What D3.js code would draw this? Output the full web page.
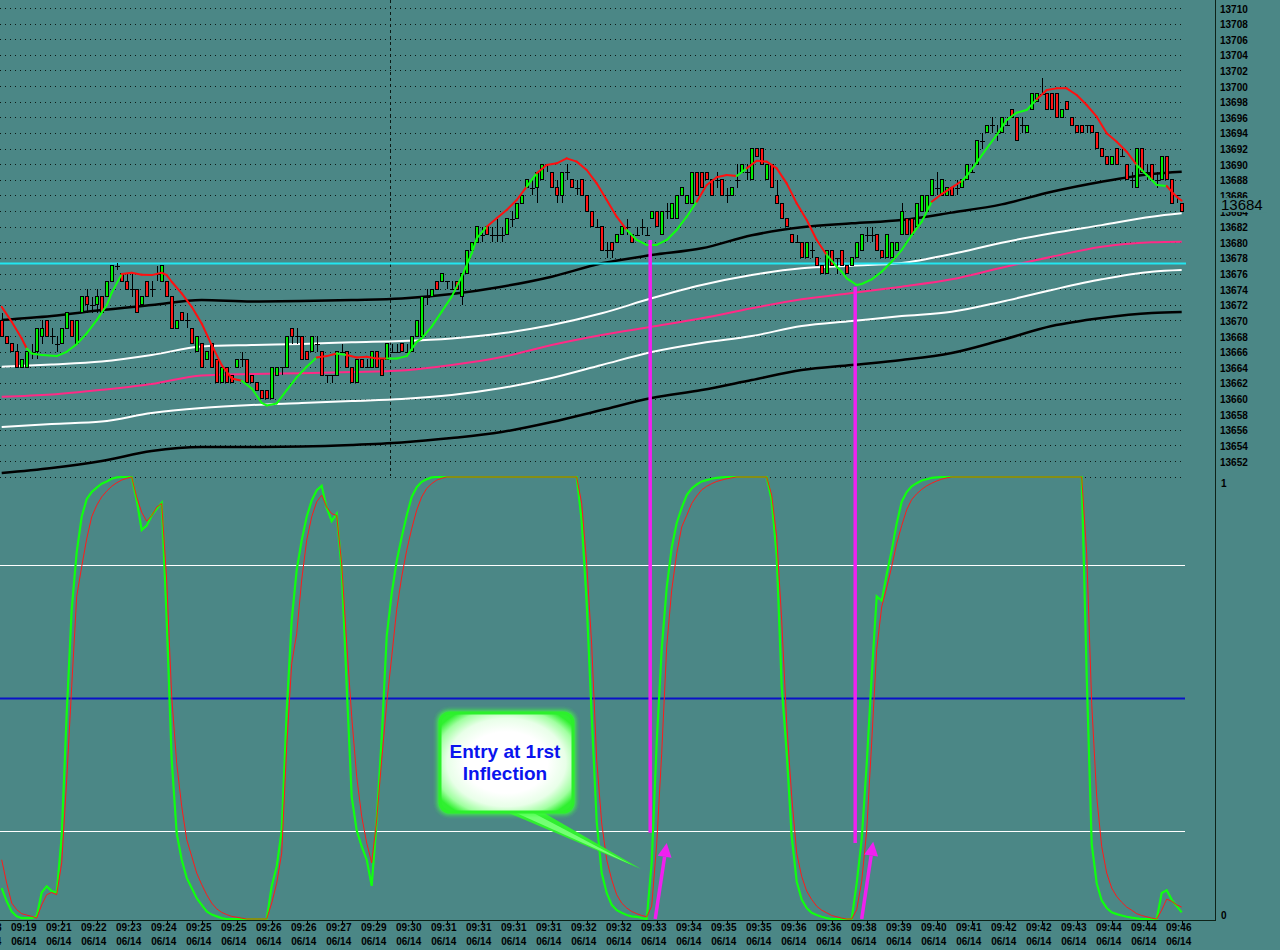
<!DOCTYPE html>
<html><head><meta charset="utf-8">
<script src="https://cdn.jsdelivr.net/npm/d3@7"></script>
<style>
html,body{margin:0;padding:0;background:#4b8786;}
svg{display:block;}
</style></head><body>
<svg id="c" width="1280" height="950"></svg>
<script>
// ---------------- DATA ----------------
const open = [13670,13668,13667,13666,13664,13664,13666,13666,13668,13670,
13668,13667,13667,13669,13670,13667,13671,13673,13672,13672,
13673,13673,13675,13677,13676,13675,13674,13674,13672,13675,
13674,13676,13675,13675,13673,13669,13671,13670,13669,13666,
13667,13665,13667,13665,13662,13664,13663,13664,13665,13665,
13663,13662,13661,13661,13660,13663,13664,13664,13669,13668,
13668,13666,13666,13667,13666,13663,13663,13663,13666,13666,
13664,13662,13665,13664,13664,13666,13665,13665,13666,13666,
13667,13666,13666,13668,13668,13673,13673,13675,13675,13675,
13674,13675,13673,13676,13679,13680,13681,13682,13681,13681,
13681,13681,13683,13683,13685,13687,13687,13687,13688,13690,
13689,13687,13686,13689,13688,13687,13688,13686,13684,13682,
13682,13679,13680,13680,13681,13682,13681,13681,13682,13681,
13683,13684,13681,13684,13683,13683,13686,13685,13685,13689,
13689,13689,13688,13688,13688,13686,13686,13688,13689,13689,
13688,13692,13692,13688,13690,13686,13685,13683,13681,13680,
13680,13678,13679,13678,13677,13676,13679,13678,13679,13677,
13677,13678,13679,13681,13681,13681,13679,13678,13678,13679,
13681,13683,13683,13682,13684,13684,13686,13687,13686,13686,
13687,13687,13687,13688,13689,13690,13693,13694,13695,13694,
13694,13695,13697,13696,13695,13694,13697,13698,13699,13699,
13699,13699,13696,13698,13696,13695,13695,13695,13695,13694,
13692,13691,13690,13692,13691,13690,13688,13687,13692,13689,
13690,13688,13688,13691,13688,13686,13685];
const high = [13671,13668,13667,13667,13665,13666,13667,13669,13670,13670,
13669,13668,13669,13671,13670,13670,13673,13674,13673,13674,
13673,13675,13677,13677.3,13676,13676,13676,13674,13673,13675,
13675,13677,13677,13675,13673,13670,13671,13671,13669,13668,
13667,13666,13667,13665,13664,13664,13663,13665,13666,13665,
13663,13662,13661,13661,13664,13664,13664,13668,13669,13669,
13668,13666,13668,13668,13666,13663,13663,13666,13667,13666,
13664,13665,13665,13665,13666,13666,13665,13667,13667,13667,
13667,13667,13668,13670,13673,13674,13674,13675,13676,13675,
13675,13675,13676,13679,13680,13682,13682,13682,13682,13683,
13682,13683,13684,13685,13686,13688,13688,13689,13690,13690,
13689,13688,13689,13690,13688,13688,13688,13686,13684,13683,
13682,13680,13680,13681,13682,13683,13681,13682,13683,13682,
13684,13684,13684,13685,13685,13686,13687,13686,13689,13689,
13689,13689,13688,13689,13688,13687,13687,13690,13690,13690,
13692,13692,13692,13690,13690,13688,13685,13683,13681,13681,
13680,13680,13680,13678,13677,13679,13679,13678,13679,13677,
13678,13680,13681,13682,13682,13681,13679,13681,13680,13680,
13685,13683,13683,13685,13686,13686,13688,13689,13688,13687,
13687,13688,13688,13690,13690,13693,13694,13695,13696,13695,
13696,13696,13697,13696,13696,13695,13699,13699,13701,13699,
13699,13699,13697,13698,13696,13695,13695,13695,13695,13694,
13692,13691,13691,13692,13692,13690,13689,13692,13692,13690,
13690,13689,13691,13691,13688,13686,13685];
const low = [13668,13667,13666,13664,13664,13664,13665,13665,13667,13668,
13667,13666,13667,13669,13668,13667,13671,13671,13671,13671,
13671,13673,13675,13676.5,13675,13674,13673,13671,13672,13673,
13673,13675,13675,13673,13669,13669,13670,13669,13667,13666,
13664,13665,13664,13662,13662,13662,13662,13664,13664,13662,
13662,13661,13660,13660,13660,13663,13663,13664,13667,13667,
13665,13665,13666,13666,13663,13662,13662,13663,13666,13664,
13662,13662,13664,13664,13664,13664,13663,13665,13666,13666,
13666,13666,13666,13668,13668,13672,13673,13674,13675,13674,
13674,13674,13672,13676,13679,13680,13680,13681,13680,13680,
13680,13681,13682,13683,13685,13687,13686,13685,13688,13689,
13687,13685,13685,13688,13687,13686,13686,13684,13682,13682,
13679,13678,13678,13680,13681,13681,13680,13681,13681,13681,
13683,13682,13681,13683,13683,13683,13686,13685,13685,13686,
13687,13688,13686,13687,13686,13685,13686,13687,13689,13688,
13688,13691,13690,13688,13687,13685,13683,13682,13680,13680,
13678,13678,13678,13677,13676,13676,13677,13676,13677,13676,
13677,13678,13679,13680,13680,13679,13678,13678,13678,13679,
13681,13681,13681,13682,13684,13684,13686,13686,13686,13686,
13686,13686,13687,13688,13689,13690,13692,13694,13694,13693,
13694,13695,13696,13693,13694,13694,13697,13698,13699,13697,
13697,13696,13696,13697,13695,13694,13694,13694,13694,13692,
13691,13690,13690,13690,13691,13688,13687,13687,13689,13688,
13688,13687,13688,13688,13685,13685,13684];
const close = [13668,13667,13666,13664,13665,13666,13666,13669,13669,13668,
13668,13667,13669,13671,13668,13670,13673,13672,13672,13673,
13671,13675,13677,13677,13675,13674,13674,13671,13673,13673,
13674,13676,13677,13673,13669,13670,13670,13670,13667,13668,
13664,13666,13664,13662,13664,13662,13662,13665,13665,13662,
13662,13661,13660,13660,13664,13664,13664,13668,13668,13668,
13665,13665,13668,13667,13663,13663,13663,13666,13666,13664,
13662,13665,13664,13664,13666,13664,13663,13667,13666,13666,
13666,13666,13668,13670,13673,13673,13674,13674,13676,13675,
13674,13674,13676,13679,13680,13682,13681,13681,13681,13681,
13681,13683,13683,13685,13686,13688,13687,13689,13690,13690,
13687,13686,13689,13689,13687,13687,13686,13684,13682,13682,
13679,13679,13679,13681,13682,13682,13680,13681,13682,13681,
13684,13682,13684,13684,13685,13686,13687,13686,13689,13686,
13687,13688,13686,13688,13686,13686,13687,13688,13690,13689,
13692,13691,13690,13690,13687,13685,13683,13682,13680,13680,
13678,13680,13679,13677,13676,13679,13677,13678,13677,13676,
13678,13680,13681,13681,13681,13679,13678,13681,13680,13680,
13684,13681,13681,13685,13686,13686,13688,13687,13688,13687,
13686,13687,13688,13690,13689,13693,13693,13695,13695,13694,
13696,13695,13696,13693,13695,13695,13699,13699,13699,13697,
13697,13696,13697,13697,13695,13694,13694,13695,13694,13692,
13691,13690,13691,13690,13691,13688,13688,13692,13689,13689,
13688,13688,13691,13688,13685,13686,13684];

// moving-average bands, sampled at these bar indices
const bandBars = [0,10,20,30,40,50,60,70,80,90,100,110,120,130,140,150,160,170,180,190,200,210,220,230,236];
const blackUpper = [13670.05,13670.56,13671.33,13671.97,13672.61,13672.42,13672.48,13672.61,13672.8,13673.38,13674.32,13675.6,13677.31,13678.37,13679.23,13680.9,13681.92,13682.43,13682.86,13683.8,13684.86,13686.48,13687.76,13688.75,13689.04];
const whiteUpper = [13664.07,13664.35,13664.74,13665.57,13666.66,13666.85,13666.98,13667.2,13667.36,13667.7,13668.35,13669.41,13670.91,13672.83,13674.53,13675.81,13676.67,13677.0,13677.35,13678.5,13679.95,13681.15,13682.2,13683.28,13683.71];
const pinkMA = [13660.23,13660.51,13661.11,13661.86,13662.95,13663.14,13663.24,13663.39,13663.59,13664.29,13665.31,13666.85,13668.13,13669.19,13670.27,13671.55,13672.7,13673.5,13674.32,13675.26,13676.75,13678.16,13679.44,13680.0,13680.08];
const whiteLower = [13656.35,13656.74,13657.05,13658.14,13658.78,13659.17,13659.42,13659.68,13659.94,13660.45,13661.34,13662.62,13664.29,13665.95,13667.11,13668.0,13669.28,13669.92,13670.56,13671.1,13672.4,13673.9,13675.26,13676.24,13676.45];
const blackLower = [13650.46,13651.1,13652.0,13653.28,13653.79,13653.79,13653.85,13654.05,13654.37,13654.94,13655.71,13656.99,13658.53,13660.06,13661.09,13662.37,13663.65,13664.29,13664.93,13665.83,13667.49,13669.28,13670.31,13670.95,13671.08];
const cyanLevel = 13677.3;

// fast moving average (green rising / red falling)
const fastBars = [0,2,4,5,6,8,11,13,15,17,19,21,22,24,26,28,30,32,33,34,36,38,40,42,44,46,48,50,52,53,55,57,59,61,63,65,67,69,71,73,75,77,79,81,83,84,86,88,90,92,94,95,97,99,101,103,105,107,109,111,113,115,117,119,121,123,125,127,129,131,133,135,137,139,141,143,145,147,149,151,153,155,157,159,161,163,165,167,168,169,171,172,174,176,178,180,182,184,186,188,190,192,193,195,197,199,201,203,205,207,209,211,213,215,217,219,221,223,225,227,229,231,233,234,235,236];
const fastVals = [13671.74,13669.82,13667.69,13666.41,13665.77,13665.56,13665.43,13665.98,13666.96,13668.33,13670.04,13671.96,13673.54,13675.93,13676.1,13675.84,13675.8,13676.1,13675.8,13674.95,13673.45,13671.74,13669.61,13666.84,13664.28,13662.57,13662.27,13661.29,13659.45,13659.11,13659.37,13661.07,13662.7,13664.06,13665.26,13665.43,13665.77,13665.56,13665.26,13665.34,13665.13,13665.13,13665.13,13665.43,13667.26,13667.7,13669.2,13671.12,13673.04,13675.6,13678.59,13680.51,13682.0,13683.07,13684.14,13685.42,13687.12,13688.83,13689.9,13690.11,13690.75,13690.33,13689.26,13687.55,13685.42,13683.28,13681.58,13680.3,13679.66,13679.66,13680.3,13681.58,13683.28,13685.2,13687.34,13688.32,13688.62,13688.49,13689.47,13690.45,13690.33,13689.47,13687.55,13684.99,13682.86,13680.3,13678.38,13676.88,13676.24,13675.39,13674.53,13674.66,13675.26,13676.24,13677.52,13679.01,13680.93,13682.64,13685.2,13686.18,13687.0,13687.85,13688.49,13690.2,13692.03,13693.74,13695.66,13696.6,13696.94,13698.3,13699.5,13699.71,13699.71,13698.86,13697.58,13696.08,13693.95,13692.88,13691.6,13689.9,13688.62,13687.34,13687.21,13686.48,13685.84,13685.33];
const fastRedRanges = [[0,5],[24,47],[63,67],[69,77],[97,104],[108,124],[140,147],[150,164],[186,192],[208,226],[233,236]];

// oscillator (0..1)
const greenOsc = [0.07,0.04,0.017,0.006,0.002,0.002,0.002,0.006,0.06,0.074,
0.063,0.06,0.187,0.465,0.70,0.83,0.91,0.95,0.966,0.976,
0.985,0.99,0.996,0.999,1,1,1,0.947,0.88,0.89,
0.913,0.928,0.942,0.676,0.36,0.194,0.134,0.093,0.07,0.047,
0.032,0.017,0.01,0.006,0.002,0,0,0,0,0,
0,0,0,0,0.074,0.119,0.20,0.47,0.676,0.79,
0.857,0.91,0.947,0.97,0.98,0.93,0.90,0.917,0.79,0.526,
0.277,0.20,0.164,0.134,0.075,0.224,0.41,0.64,0.736,0.81,
0.864,0.913,0.955,0.977,0.989,0.995,0.999,1,1,1,
1,1,1,1,1,1,1,1,1,1,
1,1,1,1,1,1,1,1,1,1,
1,1,1,1,1,1,0.90,0.714,0.46,0.22,
0.104,0.059,0.032,0.02,0.014,0.009,0.006,0.005,0.002,0,
0.127,0.40,0.61,0.75,0.84,0.896,0.93,0.959,0.974,0.983,
0.99,0.993,0.996,0.998,0.999,1,1,1,1,1,
1,1,1,1,0.947,0.82,0.526,0.375,0.187,0.085,
0.044,0.025,0.014,0.009,0.005,0.002,0,0,0,0,
0,0.081,0.18,0.35,0.55,0.73,0.72,0.78,0.834,0.895,
0.944,0.966,0.979,0.986,0.992,0.995,0.998,0.999,1,1,
1,1,1,1,1,1,1,1,1,1,
1,1,1,1,1,1,1,1,1,1,
1,1,1,1,1,1,1,0.55,0.17,0.081,
0.042,0.025,0.015,0.011,0.008,0.005,0.003,0.0015,0,0,
0,0,0.059,0.065,0.044,0.029,0.015];
const redOsc = [0.134,0.081,0.036,0.021,0.012,0.009,0.006,0.002,0.032,0.055,
0.06,0.055,0.127,0.315,0.526,0.73,0.797,0.86,0.91,0.936,
0.955,0.968,0.979,0.987,0.993,0.997,1,0.955,0.92,0.90,
0.913,0.932,0.94,0.767,0.503,0.352,0.255,0.18,0.142,0.104,
0.078,0.055,0.036,0.023,0.015,0.01,0.006,0.004,0.002,0,
0,0,0,0,0.036,0.081,0.149,0.39,0.578,0.646,
0.767,0.857,0.91,0.944,0.959,0.932,0.917,0.913,0.804,0.624,
0.458,0.322,0.232,0.172,0.127,0.224,0.36,0.488,0.593,0.70,
0.774,0.834,0.883,0.925,0.955,0.974,0.985,0.993,0.997,1,
1,1,1,1,1,1,1,1,1,1,
1,1,1,1,1,1,1,1,1,1,
1,1,1,1,1,1,0.94,0.804,0.62,0.36,
0.217,0.134,0.089,0.055,0.036,0.025,0.017,0.012,0.008,0.005,
0.029,0.17,0.375,0.616,0.744,0.827,0.887,0.913,0.94,0.957,
0.971,0.979,0.985,0.99,0.993,0.996,0.998,1,1,1,
1,1,1,1,0.959,0.865,0.676,0.443,0.277,0.149,
0.096,0.063,0.044,0.029,0.02,0.014,0.008,0.005,0.002,0,
0,0.021,0.085,0.20,0.40,0.61,0.706,0.75,0.797,0.85,
0.89,0.926,0.949,0.962,0.972,0.98,0.986,0.991,0.995,0.998,
1,1,1,1,1,1,1,1,1,1,
1,1,1,1,1,1,1,1,1,1,
1,1,1,1,1,1,1,0.827,0.488,0.277,
0.164,0.104,0.07,0.051,0.038,0.027,0.02,0.012,0.008,0.005,
0.002,0,0.02,0.045,0.04,0.032,0.027];
const oscLevels = [0.2, 0.5, 0.8];

// entries (magenta)
const entryBars = [129.7, 170.7];
const entryPrice = [13680.3, 13674.3];
const entryOsc = [0.195, 0.172];
const arrowFromBar = [130.7, 172.0];
const arrowToBar = [133.0, 174.3];
const arrowToOsc = [0.172, 0.175];

// axes
const priceTicks = [13652,13654,13656,13658,13660,13662,13664,13666,13668,13670,13672,13674,13676,13678,13680,13682,13684,13686,13688,13690,13692,13694,13696,13698,13700,13702,13704,13706,13708,13710];
const timeLabels = ['09:18','09:19','09:21','09:22','09:23','09:24','09:25','09:25','09:26','09:26','09:27','09:29','09:30','09:31','09:31','09:31','09:31','09:32','09:32','09:33','09:34','09:35','09:35','09:36','09:36','09:38','09:39','09:40','09:41','09:42','09:42','09:43','09:44','09:44','09:46'];
const dateLabel = '06/14';
const firstTickBar = -2, barsPerTick = 7;
const sessionBar = 77.7;
const lastPrice = 13684;
const calloutLines = ['Entry at 1rst', 'Inflection'];

// ---------------- DRAW ----------------
const BG = '#4b8786';
const FONT = "'Liberation Sans', Arial, sans-serif";
const svg = d3.select('#c');
svg.append('rect').attr('width',1280).attr('height',950).attr('fill',BG);

const x = d3.scaleLinear().domain([0,236]).range([1.7,1181.7]);
const yP = d3.scaleLinear().domain([13652,13710]).range([461,8]);
const yO = d3.scaleLinear().domain([0,1]).range([919,477]);

const defs = svg.append('defs');
defs.append('clipPath').attr('id','cu').append('rect').attr('x',0).attr('y',0).attr('width',1186).attr('height',476);
defs.append('clipPath').attr('id','cl').append('rect').attr('x',0).attr('y',476).attr('width',1186).attr('height',444);
const rg = defs.append('radialGradient').attr('id','rg').attr('cx','50%').attr('cy','50%').attr('r','62%');
[['0%','#ffffff'],['50%','#ffffff'],['72%','#e8ffe8'],['88%','#a0ffa0'],['100%','#30f030']].forEach(s=>rg.append('stop').attr('offset',s[0]).attr('stop-color',s[1]));
defs.append('filter').attr('id','glow').attr('x','-20%').attr('y','-20%').attr('width','140%').attr('height','140%')
  .append('feGaussianBlur').attr('stdDeviation',2);

// ---- upper panel
const gU = svg.append('g').attr('clip-path','url(#cu)');
gU.selectAll('line.grid').data(priceTicks).join('line').attr('class','grid')
  .attr('x1',0).attr('x2',1183)
  .attr('y1',d=>Math.round(yP(d))+0.5).attr('y2',d=>Math.round(yP(d))+0.5)
  .attr('stroke','#0c1a16').attr('stroke-width',1).attr('stroke-dasharray','1,4');
gU.append('line').attr('x1',Math.round(x(sessionBar))+0.5).attr('x2',Math.round(x(sessionBar))+0.5)
  .attr('y1',0).attr('y2',476).attr('stroke','#0c1a16').attr('stroke-dasharray','3,3');

const bandLine = d3.line().x((d,i)=>x(bandBars[i])).y(d=>yP(d)).curve(d3.curveMonotoneX);
[[blackLower,'#000000',2.5],[whiteLower,'#ffffff',2],[pinkMA,'#ff2a86',2],[whiteUpper,'#ffffff',2],[blackUpper,'#000000',2.5]]
  .forEach(([arr,col,w])=>{
    gU.append('path').datum(arr).attr('d',bandLine).attr('fill','none').attr('stroke',col).attr('stroke-width',w);
  });
gU.append('line').attr('x1',0).attr('x2',1186).attr('y1',yP(cyanLevel)).attr('y2',yP(cyanLevel))
  .attr('stroke','#22e6f0').attr('stroke-width',2);

// candles
const idx = d3.range(open.length);
const gC = gU.append('g').attr('shape-rendering','crispEdges');
gC.selectAll('line.wick').data(idx).join('line').attr('class','wick')
  .attr('x1',i=>Math.round(x(i))+0.5).attr('x2',i=>Math.round(x(i))+0.5)
  .attr('y1',i=>yP(high[i])).attr('y2',i=>yP(low[i]))
  .attr('stroke','#000').attr('stroke-width',1);
gC.selectAll('rect.body').data(idx.filter(i=>open[i]!==close[i])).join('rect').attr('class','body')
  .attr('x',i=>Math.round(x(i))-1.5).attr('width',3)
  .attr('y',i=>Math.min(yP(open[i]),yP(close[i])))
  .attr('height',i=>Math.max(1,Math.abs(yP(open[i])-yP(close[i]))))
  .attr('fill',i=>close[i]>open[i]?'#00f000':'#ff1414')
  .attr('stroke','#000').attr('stroke-width',1);
gC.selectAll('line.doji').data(idx.filter(i=>open[i]===close[i])).join('line').attr('class','doji')
  .attr('x1',i=>Math.round(x(i))-2).attr('x2',i=>Math.round(x(i))+3)
  .attr('y1',i=>Math.round(yP(open[i]))+0.5).attr('y2',i=>Math.round(yP(open[i]))+0.5)
  .attr('stroke','#000').attr('stroke-width',1);

// fast MA
const isRed = b => fastRedRanges.some(r=>b>=r[0] && b<=r[1]);
const segs = d3.range(fastBars.length-1);
gU.selectAll('line.fast').data(segs).join('line').attr('class','fast')
  .attr('x1',i=>x(fastBars[i])).attr('x2',i=>x(fastBars[i+1]))
  .attr('y1',i=>yP(fastVals[i])).attr('y2',i=>yP(fastVals[i+1]))
  .attr('stroke',i=>isRed((fastBars[i]+fastBars[i+1])/2)?'#ff1010':'#10ff10')
  .attr('stroke-width',2).attr('stroke-linecap','round');

// ---- lower panel
const gL = svg.append('g').attr('clip-path','url(#cl)');
gL.append('line').attr('x1',0).attr('x2',1183).attr('y1',Math.round(yO(1))+0.5).attr('y2',Math.round(yO(1))+0.5)
  .attr('stroke','#0c1a16').attr('stroke-dasharray','1,4');
gL.selectAll('line.lvl').data(oscLevels).join('line').attr('class','lvl')
  .attr('x1',0).attr('x2',1185)
  .attr('y1',d=>Math.round(yO(d))+0.5).attr('y2',d=>Math.round(yO(d))+0.5)
  .attr('stroke',d=>d===0.5?'#0a12c8':'#ffffff').attr('stroke-width',d=>d===0.5?2.2:1.2);

const oscLine = d3.line().x((d,i)=>x(i)).y(d=>yO(d));
gL.append('path').datum(greenOsc).attr('d',oscLine).attr('fill','none').attr('stroke','#10ff10').attr('stroke-width',2.2);
gL.append('path').datum(redOsc).attr('d',oscLine).attr('fill','none').attr('stroke','#ff1a1a').attr('stroke-width',1);

// ---- magenta entries (span both panels)
const gM = svg.append('g');
gM.selectAll('line.entry').data(entryBars).join('line').attr('class','entry')
  .attr('x1',d=>x(d)).attr('x2',d=>x(d))
  .attr('y1',(d,i)=>yP(entryPrice[i])).attr('y2',(d,i)=>yO(entryOsc[i]))
  .attr('stroke','#f020f0').attr('stroke-width',3.5);
arrowFromBar.forEach((fb,i)=>{
  const x0=x(fb), y0=yO(0), x1=x(arrowToBar[i]), y1=yO(arrowToOsc[i]);
  const ang=Math.atan2(y1-y0,x1-x0), L=14, Wd=7;
  const bx=x1-L*Math.cos(ang), by=y1-L*Math.sin(ang);
  const px=-Math.sin(ang), py=Math.cos(ang);
  gM.append('line').attr('x1',x0).attr('y1',y0).attr('x2',bx).attr('y2',by)
    .attr('stroke','#f020f0').attr('stroke-width',3.5);
  gM.append('path').attr('d',`M${x1},${y1}L${bx+px*Wd},${by+py*Wd}L${bx-px*Wd},${by-py*Wd}Z`).attr('fill','#f020f0');
});

// ---- callout annotation
const gA = svg.append('g');
gA.append('path').attr('d','M492,806 L532,806 L641,869 Z').attr('fill','#30ee30');
gA.append('path').attr('d','M505,808 L524,808 L632,865 Z').attr('fill','#74ff74');
gA.append('rect').attr('x',437).attr('y',710).attr('width',139).attr('height',105).attr('rx',12)
  .attr('fill','#40ff40').attr('filter','url(#glow)').attr('opacity',0.85);
gA.append('rect').attr('x',440).attr('y',713).attr('width',133).attr('height',99).attr('rx',10)
  .attr('fill','url(#rg)').attr('stroke','#2cf02c').attr('stroke-width',3);
gA.selectAll('text').data(calloutLines).join('text')
  .attr('x',505).attr('y',(d,i)=>758+i*22).attr('text-anchor','middle')
  .attr('font-family',FONT).attr('font-weight','bold').attr('font-size',19)
  .attr('fill','#0a14ee').text(d=>d);

// ---- axes
svg.append('line').attr('x1',1215.5).attr('x2',1215.5).attr('y1',0).attr('y2',921).attr('stroke','#0e2218').attr('stroke-width',1);
svg.append('line').attr('x1',0).attr('x2',1216).attr('y1',920.5).attr('y2',920.5).attr('stroke','#0e2218').attr('stroke-width',1);

svg.selectAll('text.py').data(priceTicks).join('text').attr('class','py')
  .attr('x',1220).attr('y',d=>yP(d)+4.5)
  .attr('font-family',FONT).attr('font-weight','bold').attr('font-size',10).attr('fill','#000')
  .text(d=>d);
// last price tag
svg.append('rect').attr('x',1219).attr('y',yP(lastPrice)-13).attr('width',48).attr('height',14).attr('fill',BG);
svg.append('text').attr('x',1221).attr('y',yP(lastPrice)-1)
  .attr('font-family',FONT).attr('font-size',15).attr('fill','#000').text(lastPrice);
// oscillator labels
svg.append('text').attr('x',1221).attr('y',yO(1)+9.6).attr('font-family',FONT).attr('font-weight','bold').attr('font-size',10).text('1');
svg.append('text').attr('x',1221).attr('y',yO(0)-0.4).attr('font-family',FONT).attr('font-weight','bold').attr('font-size',10).text('0');

// time axis
const tickBars = timeLabels.map((d,i)=>firstTickBar+i*barsPerTick);
svg.selectAll('line.xt').data(tickBars).join('line').attr('class','xt')
  .attr('x1',d=>Math.round(x(d))+0.5).attr('x2',d=>Math.round(x(d))+0.5)
  .attr('y1',921).attr('y2',925).attr('stroke','#000');
svg.selectAll('text.xt1').data(timeLabels).join('text').attr('class','xt1')
  .attr('x',(d,i)=>x(tickBars[i])-3).attr('y',931).attr('text-anchor','middle')
  .attr('font-family',FONT).attr('font-weight','bold').attr('font-size',10).text(d=>d);
svg.selectAll('text.xt2').data(timeLabels).join('text').attr('class','xt2')
  .attr('x',(d,i)=>x(tickBars[i])-3).attr('y',945).attr('text-anchor','middle')
  .attr('font-family',FONT).attr('font-weight','bold').attr('font-size',10).text(dateLabel);
</script></body></html>
